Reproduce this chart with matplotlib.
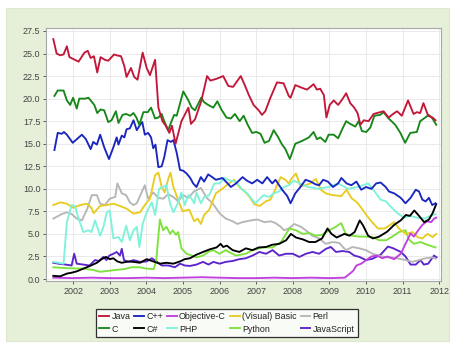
import matplotlib
matplotlib.use("Agg")
import matplotlib.pyplot as plt
from matplotlib.patches import Rectangle

plt.rcParams['font.family'] = ['Liberation Sans', 'DejaVu Sans']

# ---- data (TIOBE-style index, % share) ----
java_t = [2001.46, 2001.55, 2001.65, 2001.74, 2001.83, 2001.90, 2002.00, 2002.15, 2002.31, 2002.40,
          2002.48, 2002.57, 2002.66, 2002.75, 2002.87, 2002.96, 2003.12, 2003.19, 2003.31, 2003.40,
          2003.46, 2003.58, 2003.67, 2003.76, 2003.90, 2004.01, 2004.10, 2004.24, 2004.33, 2004.44,
          2004.53, 2004.63, 2004.70, 2004.80, 2004.96, 2005.15, 2005.22, 2005.33, 2005.50, 2005.66,
          2005.75, 2005.92, 2006.10, 2006.24, 2006.37, 2006.58, 2006.69, 2006.80, 2006.93, 2007.07,
          2007.16, 2007.25, 2007.39, 2007.57, 2007.75, 2007.89, 2007.94, 2008.07, 2008.25, 2008.39,
          2008.57, 2008.66, 2008.75, 2008.85, 2008.92, 2009.01, 2009.12, 2009.24, 2009.35, 2009.46,
          2009.57, 2009.68, 2009.77, 2009.85, 2009.94, 2010.07, 2010.21, 2010.39, 2010.48, 2010.62,
          2010.74, 2010.85, 2010.98, 2011.15, 2011.30, 2011.39, 2011.48, 2011.57, 2011.70, 2011.82,
          2011.90]
java_v = [26.6, 25.0, 24.8, 24.9, 25.8, 24.6, 24.4, 24.1, 25.1, 25.3,
          24.5, 24.7, 22.9, 24.6, 24.3, 24.2, 24.9, 24.8, 24.7, 23.6,
          22.4, 23.4, 22.4, 22.1, 25.1, 23.4, 22.6, 24.3, 19.0, 17.5,
          17.0, 16.2, 17.0, 15.0, 17.5, 19.0, 17.2, 17.7, 19.7, 22.5,
          22.0, 22.2, 22.5, 21.4, 21.3, 22.5, 21.5, 20.4, 19.3, 18.7,
          18.2, 18.6, 20.1, 21.8, 21.7, 20.3, 20.1, 21.5, 21.2, 21.0,
          21.6, 21.0, 21.1, 20.4, 17.9, 19.3, 19.8, 19.3, 19.9, 20.6,
          19.5, 19.0, 18.4, 17.1, 17.6, 17.5, 18.3, 18.5, 18.6, 17.9,
          18.3, 18.6, 18.1, 19.8, 18.3, 18.5, 18.4, 19.5, 18.1, 17.9,
          17.6]

c_t = [2001.49, 2001.58, 2001.74, 2001.83, 2001.92, 2002.00, 2002.10, 2002.17, 2002.33, 2002.42,
       2002.58, 2002.66, 2002.75, 2002.85, 2002.96, 2003.05, 2003.17, 2003.24, 2003.35, 2003.45,
       2003.56, 2003.65, 2003.73, 2003.81, 2003.92, 2004.04, 2004.13, 2004.24, 2004.33, 2004.42,
       2004.49, 2004.60, 2004.67, 2004.76, 2004.83, 2005.01, 2005.15, 2005.24, 2005.33, 2005.50,
       2005.58, 2005.69, 2005.83, 2005.94, 2006.05, 2006.19, 2006.31, 2006.42, 2006.55, 2006.66,
       2006.77, 2006.89, 2007.01, 2007.12, 2007.23, 2007.35, 2007.48, 2007.59, 2007.71, 2007.80,
       2007.92, 2008.07, 2008.25, 2008.44, 2008.57, 2008.66, 2008.75, 2008.89, 2008.98, 2009.12,
       2009.24, 2009.35, 2009.46, 2009.57, 2009.71, 2009.80, 2009.89, 2010.01, 2010.12, 2010.23,
       2010.39, 2010.48, 2010.62, 2010.80, 2010.94, 2011.07, 2011.21, 2011.39, 2011.48, 2011.62,
       2011.71, 2011.80, 2011.92]
c_v = [20.3, 20.9, 20.9, 19.8, 19.3, 20.1, 18.9, 20.0, 20.0, 20.1,
       19.3, 18.4, 18.8, 18.7, 17.4, 17.6, 18.6, 17.3, 18.2, 18.3,
       18.1, 18.4, 17.9, 17.1, 18.5, 18.5, 19.0, 17.8, 17.9, 18.3,
       17.5, 16.5, 17.3, 18.2, 18.1, 20.8, 19.8, 19.0, 18.7, 20.1,
       19.6, 19.3, 19.0, 19.7, 18.8, 17.9, 17.8, 18.3, 17.5, 18.1,
       17.1, 16.2, 16.3, 16.1, 15.1, 15.3, 16.5, 15.8, 14.9, 14.4,
       13.3, 15.0, 15.3, 15.7, 16.3, 15.5, 15.7, 15.2, 16.0, 16.0,
       15.6, 16.6, 17.5, 17.2, 16.9, 17.5, 16.4, 16.3, 16.8, 18.1,
       18.2, 18.5, 17.8, 17.1, 16.2, 15.1, 16.2, 16.3, 17.5, 17.9,
       18.2, 17.9, 17.1]

cpp_t = [2001.49, 2001.58, 2001.69, 2001.75, 2001.83, 2001.99, 2002.10, 2002.24, 2002.35, 2002.48,
         2002.55, 2002.65, 2002.74, 2002.85, 2002.98, 2003.10, 2003.19, 2003.24, 2003.33, 2003.40,
         2003.46, 2003.55, 2003.65, 2003.74, 2003.83, 2003.89, 2003.96, 2004.05, 2004.13, 2004.19,
         2004.25, 2004.33, 2004.42, 2004.49, 2004.58, 2004.67, 2004.74, 2004.83, 2004.92, 2005.01,
         2005.10, 2005.20, 2005.28, 2005.37, 2005.49, 2005.58, 2005.69, 2005.80, 2005.90, 2006.08,
         2006.22, 2006.31, 2006.45, 2006.63, 2006.75, 2006.89, 2007.03, 2007.17, 2007.30, 2007.44,
         2007.53, 2007.71, 2007.85, 2007.94, 2008.07, 2008.21, 2008.35, 2008.49, 2008.62, 2008.72,
         2008.83, 2008.96, 2009.10, 2009.24, 2009.33, 2009.47, 2009.60, 2009.74, 2009.87, 2010.00,
         2010.15, 2010.28, 2010.40, 2010.54, 2010.63, 2010.77, 2010.95, 2011.08, 2011.22, 2011.36,
         2011.45, 2011.54, 2011.63, 2011.72, 2011.81, 2011.90]
cpp_v = [14.3, 16.2, 16.1, 16.3, 16.0, 15.1, 15.5, 16.0, 15.5, 14.4,
         15.2, 14.9, 16.0, 14.6, 13.3, 14.6, 15.7, 14.9, 15.9, 15.7,
         16.6, 16.7, 17.6, 16.5, 17.1, 17.4, 16.0, 16.2, 15.7, 14.5,
         14.9, 12.4, 12.5, 13.5, 15.4, 15.2, 15.4, 14.0, 12.1, 12.0,
         11.7, 11.2, 10.6, 10.2, 11.3, 10.8, 11.6, 11.3, 11.0, 11.2,
         10.6, 10.2, 10.6, 11.3, 10.9, 10.6, 11.0, 10.6, 11.3, 10.6,
         11.0, 9.9, 9.2, 8.4, 9.5, 10.2, 11.0, 10.8, 10.5, 10.4,
         11.0, 10.8, 10.2, 10.6, 11.2, 10.6, 10.4, 10.8, 9.9, 10.2,
         10.0, 10.6, 10.7, 10.2, 9.7, 9.5, 9.0, 8.4, 9.0, 9.9,
         9.7, 8.8, 8.6, 9.0, 8.2, 8.4]

cs_t = [2001.46, 2001.65, 2001.83, 2001.96, 2002.10, 2002.28, 2002.46, 2002.65, 2002.78, 2002.90,
        2003.00, 2003.10, 2003.21, 2003.33, 2003.51, 2003.65, 2003.83, 2004.01, 2004.19, 2004.37,
        2004.55, 2004.74, 2004.92, 2005.05, 2005.19, 2005.37, 2005.55, 2005.74, 2005.92, 2006.03,
        2006.10, 2006.20, 2006.36, 2006.54, 2006.72, 2006.90, 2007.07, 2007.27, 2007.44, 2007.63,
        2007.82, 2007.95, 2008.09, 2008.27, 2008.45, 2008.62, 2008.80, 2008.95, 2009.06, 2009.20,
        2009.41, 2009.55, 2009.69, 2009.83, 2009.92, 2010.06, 2010.19, 2010.36, 2010.58, 2010.77,
        2010.95, 2011.09, 2011.20, 2011.32, 2011.45, 2011.59, 2011.72, 2011.82, 2011.92]
cs_v = [0.35, 0.3, 0.6, 0.7, 0.85, 1.15, 1.45, 1.8, 2.2, 2.45,
        2.2, 2.3, 1.95, 1.8, 1.95, 1.9, 1.8, 2.2, 1.95, 1.7,
        1.8, 1.7, 1.95, 2.2, 2.3, 2.7, 3.0, 3.3, 3.5, 3.9,
        3.55, 3.7, 3.2, 3.0, 3.4, 3.2, 3.5, 3.55, 3.8, 3.9,
        4.3, 5.0, 4.6, 4.4, 4.1, 4.1, 4.5, 5.6, 5.0, 4.6,
        5.0, 4.8, 5.2, 6.5, 5.95, 4.8, 4.5, 4.7, 5.25, 6.0,
        6.5, 7.1, 7.0, 7.6, 7.0, 6.3, 6.6, 7.3, 8.3]

objc_t = [2001.46, 2002.00, 2002.50, 2003.00, 2003.50, 2004.00, 2004.50, 2005.00, 2005.50, 2006.00,
          2006.50, 2007.00, 2007.50, 2008.00, 2008.50, 2009.00, 2009.42, 2009.56, 2009.65, 2009.74,
          2009.87, 2010.01, 2010.15, 2010.30, 2010.45, 2010.58, 2010.77, 2010.95, 2011.08, 2011.22,
          2011.31, 2011.40, 2011.54, 2011.67, 2011.78, 2011.86, 2011.92]
objc_v = [0.15, 0.1, 0.15, 0.1, 0.1, 0.15, 0.1, 0.15, 0.2, 0.15,
          0.1, 0.1, 0.15, 0.1, 0.15, 0.1, 0.15, 0.6, 0.9, 1.5,
          1.7, 2.1, 2.5, 2.6, 2.3, 2.5, 2.2, 2.8, 3.9, 5.05,
          4.7, 5.25, 6.0, 6.4, 6.3, 6.7, 6.8]

php_t = [2001.46, 2001.74, 2001.83, 2001.96, 2002.05, 2002.15, 2002.28, 2002.42, 2002.50, 2002.60,
         2002.74, 2002.83, 2002.92, 2003.00, 2003.10, 2003.24, 2003.33, 2003.45, 2003.55, 2003.65,
         2003.74, 2003.81, 2003.90, 2004.01, 2004.15, 2004.24, 2004.35, 2004.46, 2004.55, 2004.65,
         2004.74, 2004.87, 2004.96, 2005.05, 2005.15, 2005.22, 2005.31, 2005.37, 2005.49, 2005.58,
         2005.72, 2005.86, 2006.00, 2006.13, 2006.30, 2006.45, 2006.62, 2006.76, 2006.89, 2006.98,
         2007.10, 2007.21, 2007.35, 2007.48, 2007.62, 2007.76, 2007.89, 2008.03, 2008.20, 2008.42,
         2008.70, 2008.97, 2009.24, 2009.51, 2009.78, 2010.06, 2010.22, 2010.40, 2010.55, 2010.68,
         2010.86, 2011.04, 2011.20, 2011.40, 2011.60, 2011.75, 2011.90]
php_v = [1.9, 1.7, 6.3, 8.2, 8.1, 6.7, 5.2, 5.4, 5.2, 6.5,
         4.8, 5.8, 7.4, 7.6, 4.5, 4.65, 4.1, 5.9, 4.3, 5.4,
         5.8, 3.55, 6.1, 7.4, 8.5, 7.1, 10.0, 10.2, 10.4, 8.35,
         7.4, 8.5, 9.6, 8.2, 9.3, 9.0, 8.4, 9.6, 8.4, 9.1,
         9.3, 10.6, 10.6, 11.2, 10.9, 10.8, 9.9, 9.5, 8.8, 8.4,
         8.9, 9.3, 9.1, 9.5, 9.7, 10.2, 10.4, 10.9, 10.6, 10.2,
         10.0, 10.2, 10.6, 10.0, 10.2, 10.6, 9.8, 8.8, 8.6, 8.0,
         7.3, 6.8, 7.0, 6.8, 6.7, 7.0, 7.2]

vb_t = [2001.46, 2001.65, 2001.83, 2002.00, 2002.20, 2002.37, 2002.50, 2002.56, 2002.74, 2002.92,
        2003.10, 2003.28, 2003.46, 2003.65, 2003.83, 2003.96, 2004.10, 2004.24, 2004.33, 2004.42,
        2004.50, 2004.60, 2004.66, 2004.74, 2004.85, 2004.99, 2005.17, 2005.31, 2005.40, 2005.49,
        2005.58, 2005.72, 2005.90, 2006.04, 2006.26, 2006.40, 2006.54, 2006.67, 2006.80, 2006.95,
        2007.10, 2007.26, 2007.39, 2007.53, 2007.67, 2007.80, 2007.89, 2007.98, 2008.09, 2008.21,
        2008.35, 2008.48, 2008.63, 2008.77, 2008.90, 2009.09, 2009.33, 2009.47, 2009.60, 2009.78,
        2010.01, 2010.19, 2010.33, 2010.50, 2010.59, 2010.77, 2010.90, 2011.09, 2011.27, 2011.41,
        2011.54, 2011.68, 2011.82, 2011.92]
vb_v = [8.2, 8.5, 8.35, 7.9, 8.2, 8.35, 7.9, 7.3, 8.1, 8.2,
        8.35, 8.1, 7.8, 7.25, 7.4, 8.2, 8.9, 11.5, 11.8, 10.2,
        9.6, 11.1, 11.8, 10.2, 9.0, 7.5, 7.7, 6.4, 6.7, 6.1,
        7.1, 7.7, 9.5, 9.9, 10.6, 11.0, 10.2, 9.8, 9.2, 8.3,
        8.1, 8.6, 8.8, 10.0, 11.3, 11.0, 10.6, 11.2, 11.7, 10.3,
        10.4, 10.6, 11.1, 9.9, 9.5, 9.3, 9.2, 9.9, 9.0, 8.4,
        7.1, 6.2, 5.6, 5.6, 5.8, 6.3, 5.6, 5.0, 5.2, 4.65,
        4.5, 5.0, 4.65, 5.0]

py_t = [2001.46, 2001.83, 2002.28, 2002.55, 2002.74, 2002.95, 2003.15, 2003.40, 2003.60, 2003.83,
        2004.00, 2004.20, 2004.27, 2004.37, 2004.46, 2004.55, 2004.65, 2004.72, 2004.81, 2004.87,
        2004.96, 2005.10, 2005.25, 2005.37, 2005.55, 2005.69, 2005.83, 2006.00, 2006.17, 2006.30,
        2006.45, 2006.72, 2006.90, 2007.18, 2007.45, 2007.68, 2007.91, 2008.09, 2008.27, 2008.45,
        2008.63, 2008.80, 2009.00, 2009.18, 2009.32, 2009.45, 2009.63, 2009.82, 2010.00, 2010.18,
        2010.36, 2010.55, 2010.72, 2010.90, 2011.08, 2011.17, 2011.31, 2011.49, 2011.67, 2011.90]
py_v = [1.3, 1.2, 1.15, 1.0, 0.8, 0.9, 1.0, 1.1, 1.3, 1.3,
        1.15, 1.1, 2.0, 6.6, 5.4, 5.8, 5.0, 5.4, 4.9, 5.2,
        3.4, 2.8, 2.6, 2.4, 2.6, 3.0, 3.2, 2.8, 3.2, 2.9,
        2.6, 2.8, 3.2, 3.5, 3.5, 4.1, 5.6, 5.4, 5.0, 5.1,
        4.8, 4.9, 5.4, 5.8, 6.2, 5.0, 4.8, 4.7, 4.7, 4.65,
        4.3, 4.3, 4.7, 5.2, 5.4, 4.4, 3.9, 4.1, 3.8, 3.5]

perl_t = [2001.46, 2001.69, 2001.83, 2001.96, 2002.10, 2002.24, 2002.39, 2002.51, 2002.65, 2002.74,
          2002.87, 2003.00, 2003.15, 2003.21, 2003.33, 2003.45, 2003.55, 2003.65, 2003.74, 2003.87,
          2003.96, 2004.05, 2004.19, 2004.33, 2004.46, 2004.60, 2004.74, 2004.87, 2005.00, 2005.15,
          2005.30, 2005.49, 2005.65, 2005.81, 2006.00, 2006.17, 2006.36, 2006.49, 2006.62, 2006.86,
          2007.03, 2007.23, 2007.40, 2007.53, 2007.67, 2007.76, 2007.89, 2008.04, 2008.22, 2008.39,
          2008.53, 2008.72, 2008.90, 2009.09, 2009.27, 2009.45, 2009.63, 2009.82, 2010.00, 2010.18,
          2010.36, 2010.54, 2010.72, 2010.90, 2011.09, 2011.27, 2011.45, 2011.63, 2011.82, 2011.90]
perl_v = [6.7, 7.2, 7.4, 7.2, 6.7, 6.5, 7.8, 9.3, 9.3, 8.35,
          8.2, 8.9, 9.1, 10.6, 9.5, 9.3, 8.5, 8.2, 8.4, 9.6,
          10.4, 8.9, 9.6, 9.0, 8.9, 9.4, 9.1, 8.6, 9.3, 9.0,
          9.7, 10.1, 9.0, 8.4, 7.3, 6.7, 6.4, 6.1, 6.3, 6.5,
          6.6, 6.3, 6.4, 6.2, 5.8, 5.4, 5.6, 6.1, 5.8, 5.3,
          4.8, 4.5, 3.9, 4.1, 4.0, 3.2, 3.55, 3.4, 3.2, 2.8,
          2.6, 2.4, 2.4, 2.25, 2.1, 1.9, 2.1, 2.3, 2.4, 2.25]

js_t = [2001.46, 2001.60, 2001.80, 2001.96, 2002.03, 2002.10, 2002.28, 2002.45, 2002.60, 2002.70,
        2002.83, 2002.91, 2002.99, 2003.10, 2003.19, 2003.28, 2003.33, 2003.39, 2003.51, 2003.65,
        2003.83, 2004.01, 2004.15, 2004.28, 2004.42, 2004.60, 2004.78, 2004.92, 2005.05, 2005.19,
        2005.37, 2005.55, 2005.70, 2005.83, 2006.00, 2006.17, 2006.36, 2006.54, 2006.72, 2006.90,
        2007.09, 2007.27, 2007.45, 2007.63, 2007.82, 2008.00, 2008.18, 2008.36, 2008.54, 2008.72,
        2008.91, 2009.04, 2009.18, 2009.36, 2009.54, 2009.68, 2009.82, 2010.00, 2010.18, 2010.40,
        2010.60, 2010.75, 2010.95, 2011.08, 2011.22, 2011.36, 2011.49, 2011.58, 2011.70, 2011.77,
        2011.86, 2011.93]
js_v = [1.8, 1.7, 1.6, 1.5, 2.8, 1.7, 1.6, 1.5, 2.1, 2.0,
        2.45, 2.1, 2.6, 2.8, 3.0, 2.6, 3.35, 2.1, 1.9, 2.1,
        1.9, 1.95, 2.3, 1.95, 1.5, 1.5, 1.3, 1.7, 1.5, 1.45,
        1.6, 1.9, 1.6, 1.9, 1.7, 1.9, 2.0, 2.2, 2.3, 2.6,
        3.0, 2.8, 3.2, 2.6, 2.8, 2.8, 2.45, 2.8, 3.0, 2.8,
        3.35, 3.55, 3.0, 3.1, 3.0, 2.6, 2.45, 2.1, 2.25, 2.7,
        3.6, 3.4, 3.0, 2.5, 1.6, 1.6, 2.1, 1.6, 1.7, 2.1,
        2.6, 2.4]

year_ticks = list(range(2002, 2013))
value_ticks = [0.0, 2.5, 5.0, 7.5, 10.0, 12.5, 15.0, 17.5, 20.0, 22.5, 25.0, 27.5]

# legend order: column-major pairs (row 1 / row 2 of the legend box)
series = [
    ("Java", java_t, java_v, "#c3173a"),
    ("C", c_t, c_v, "#17871a"),
    ("C++", cpp_t, cpp_v, "#1a26c0"),
    ("C#", cs_t, cs_v, "#000000"),
    ("Objective-C", objc_t, objc_v, "#c040e0"),
    ("PHP", php_t, php_v, "#7ef2da"),
    ("(Visual) Basic", vb_t, vb_v, "#e8cc22"),
    ("Python", py_t, py_v, "#7ee23c"),
    ("Perl", perl_t, perl_v, "#b6b6b6"),
    ("JavaScript", js_t, js_v, "#5c24cc"),
]

fig = plt.figure(figsize=(4.52, 3.45), dpi=100, facecolor="white")
# light green chart panel behind everything
fig.patches.append(Rectangle((6 / 452, 4 / 345), 443 / 452, 333 / 345,
                             transform=fig.transFigure, facecolor="#e6efd8",
                             edgecolor="#dfe8cf", lw=0.8, zorder=-5))

ax = fig.add_axes([46 / 452, 1 - 281 / 345, 395 / 452, 253 / 345])
ax.set_zorder(2)
ax.set_facecolor("white")

n = len(series)
for i, (name, t, v, col) in enumerate(series):
    ax.plot(t, v, color=col, lw=1.35, label=name, zorder=10 + n - i,
            solid_joinstyle="round")

ax.set_xlim(2001.26, 2012.05)
ax.set_ylim(-0.22, 27.83)
ax.set_xticks(year_ticks)
ax.set_xticklabels([str(y) for y in year_ticks])
ax.set_yticks(value_ticks)
ax.set_yticklabels(["%.1f" % v for v in value_ticks])
ax.grid(True, color="#e6e6e6", lw=0.6, zorder=0)
ax.set_axisbelow(True)
ax.tick_params(axis="both", labelsize=6.5, colors="#444444", length=2, width=0.6, pad=2)
for s in ax.spines.values():
    s.set_color("#a8a8a8")
    s.set_linewidth(0.8)

leg = fig.legend([ax.lines[i] for i in range(n)], [s[0] for s in series],
                 loc="center", bbox_to_anchor=(227 / 452, 1 - 323 / 345),
                 bbox_transform=fig.transFigure, ncol=5, fontsize=6.4,
                 frameon=True, fancybox=False, edgecolor="black",
                 handlelength=1.1, handletextpad=0.25, columnspacing=0.45,
                 borderpad=0.35, labelspacing=0.35)
leg.set_zorder(3)
leg.get_frame().set_linewidth(0.9)
for txt in leg.get_texts():
    txt.set_color("#222222")

fig.savefig("out.png", dpi=100, facecolor="white")
